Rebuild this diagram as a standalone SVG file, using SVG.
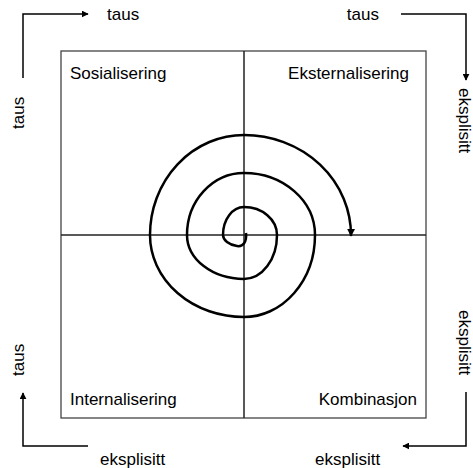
<svg xmlns="http://www.w3.org/2000/svg" width="473" height="468" viewBox="0 0 473 468">
<defs>
<style>
.lbl{font-family:"Liberation Sans",Arial,sans-serif;font-size:17px;fill:#000}
.conn{fill:none;stroke:#000;stroke-width:1.5}
.grid{stroke:#222;stroke-width:1.5}
</style>
<marker id="ah" viewBox="0 0 10 10" refX="9" refY="5" markerWidth="7" markerHeight="7" markerUnits="userSpaceOnUse" orient="auto">
<path d="M0,0 L10,5 L0,10 z" fill="#000"/>
</marker>
<marker id="ah2" viewBox="0 0 10 10" refX="9" refY="5" markerWidth="8" markerHeight="8" markerUnits="userSpaceOnUse" orient="auto">
<path d="M0,0 L10,5 L0,10 z" fill="#000"/>
</marker>
</defs>
<rect width="473" height="468" fill="#fff"/>
<g id="matrix">
<rect x="61" y="51" width="365" height="367" fill="#fff" stroke="#444" stroke-width="1.3"/>
<line class="grid" x1="244" y1="51" x2="244" y2="418"/>
<line class="grid" x1="61" y1="235" x2="426" y2="235"/>
</g>
<g id="spiral">
<path d="M246,233 C247,242 243,247 237,246 C229,245 223,240 223,235 A21 28 0 0 1 244,207 A33 28 0 0 1 277,235 A33 44 0 0 1 244,279 A57 44 0 0 1 187,235 A57 62 0 0 1 244,173 A71 62 0 0 1 315,235 A71 82 0 0 1 244,317 A94 82 0 0 1 150,235 A94 100 0 0 1 244,135 A107 100 0 0 1 351,236" fill="none" stroke="#000" stroke-width="2.5" marker-end="url(#ah2)"/>
</g>
<g id="q-sosialisering"><text class="lbl" x="70" y="79">Sosialisering</text></g>
<g id="q-eksternalisering"><text class="lbl" x="409" y="79" text-anchor="end">Eksternalisering</text></g>
<g id="q-internalisering"><text class="lbl" x="70" y="405">Internalisering</text></g>
<g id="q-kombinasjon"><text class="lbl" x="417" y="405" text-anchor="end">Kombinasjon</text></g>
<g id="connectors">
<path class="conn" d="M23,78 V14 H88" marker-end="url(#ah)"/>
<path class="conn" d="M401,14 H466 V80" marker-end="url(#ah)"/>
<path class="conn" d="M466,392 V446 H403" marker-end="url(#ah)"/>
<path class="conn" d="M88,446 H23 V393" marker-end="url(#ah)"/>
</g>
<g id="labels-outer">
<text class="lbl" x="107" y="20">taus</text>
<text class="lbl" x="379" y="20" text-anchor="end">taus</text>
<text class="lbl" transform="translate(24,129) rotate(-90)">taus</text>
<text class="lbl" transform="translate(24,376) rotate(-90)">taus</text>
<text class="lbl" transform="translate(459,88) rotate(90)">eksplisitt</text>
<text class="lbl" transform="translate(459,310) rotate(90)">eksplisitt</text>
<text class="lbl" x="100" y="465">eksplisitt</text>
<text class="lbl" x="315" y="465">eksplisitt</text>
</g>
</svg>
